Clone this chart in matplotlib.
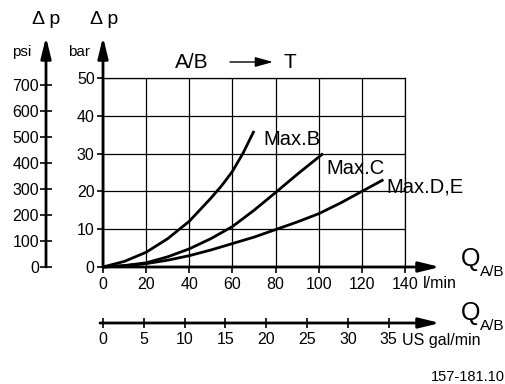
import matplotlib
matplotlib.use("Agg")
import matplotlib.pyplot as plt
from matplotlib.patches import FancyArrowPatch

plt.rcParams['font.family'] = ['Liberation Sans', 'DejaVu Sans']

# flow in l/min, pressure drop in bar
q_b = [0, 10, 20, 30, 40, 50, 55, 60, 65, 70]
dp_b = [0, 1.5, 3.9, 7.5, 12.1, 18.2, 21.5, 25.3, 30.2, 36.0]
q_c = [0, 10, 20, 30, 40, 50, 60, 70, 80, 90, 102]
dp_c = [0, 0.4, 1.1, 2.7, 4.8, 7.5, 10.7, 15.0, 19.7, 24.5, 30.0]
q_de = [0, 10, 20, 30, 40, 50, 60, 70, 80, 90, 100, 110, 120, 130]
dp_de = [0, 0.3, 0.9, 1.8, 3.0, 4.5, 6.2, 7.9, 9.9, 11.9, 14.1, 16.9, 20.0, 23.1]
labels = ["Max.B", "Max.C", "Max.D,E"]

lmin_ticks = list(range(0, 141, 20))
bar_ticks = list(range(0, 51, 10))
psi_ticks = list(range(0, 701, 100))
gal_ticks = list(range(0, 36, 5))

W, H = 506, 384
fig = plt.figure(figsize=(W / 100, H / 100), dpi=100)
fig.patch.set_facecolor('white')

def fx(px):
    return px / W

def fy(py):
    return 1 - py / H

x0, x1, y0, y1 = 103, 405, 267, 78
ax = fig.add_axes([fx(x0), fy(y0), fx(x1) - fx(x0), fy(y1) - fy(y0)])
ax.set_xlim(0, 140)
ax.set_ylim(0, 50)
ax.set_xticks(lmin_ticks)
ax.set_yticks(bar_ticks)
ax.grid(True, color='k', lw=0.9)
for s in ['left', 'bottom']:
    ax.spines[s].set_visible(False)
for s in ['top', 'right']:
    ax.spines[s].set_linewidth(0.9)
ax.tick_params(axis='both', direction='out', length=4, width=1.2, labelsize=11.5, pad=2)
ax.tick_params(axis='x', pad=3)

for q, dp in [(q_b, dp_b), (q_c, dp_c), (q_de, dp_de)]:
    ax.plot(q, dp, color='k', lw=2, clip_on=False, solid_capstyle='butt', solid_joinstyle='round')

# axis arrows (main)
arr = dict(arrowstyle='-|>,head_length=0.9,head_width=0.22', lw=2, color='k',
           mutation_scale=14, shrinkA=0, shrinkB=0)
tip_y = (y0 - 37) / (y0 - y1)
tip_x = (440 - x0) / (x1 - x0)
ax.annotate('', xy=(0, tip_y), xytext=(0, 0), xycoords='axes fraction', arrowprops=arr)
ax.annotate('', xy=(tip_x, 0), xytext=(0, 0), xycoords='axes fraction', arrowprops=arr)

# psi axis
psi_loc = (46 - x0) / (x1 - x0)
sec = ax.secondary_yaxis(psi_loc, functions=(lambda b: b * 14.5, lambda p: p / 14.5))
sec.set_yticks(psi_ticks)
sec.spines['left'].set_visible(False)
sec.tick_params(direction='inout', length=8, width=1.2, labelsize=11.5, pad=1)
ax.annotate('', xy=(psi_loc, tip_y), xytext=(psi_loc, 0), xycoords='axes fraction', arrowprops=arr)

# US gal/min axis
gal_loc = -(323 - y0) / (y0 - y1)
secx = ax.secondary_xaxis(gal_loc, functions=(lambda l: l / 3.785, lambda g: g * 3.785))
secx.set_xticks(gal_ticks)
secx.spines['bottom'].set_visible(False)
secx.tick_params(direction='inout', length=7, width=1.2, labelsize=11.5, pad=3)
ax.annotate('', xy=(tip_x, gal_loc), xytext=(-0.01, gal_loc), xycoords='axes fraction', arrowprops=arr)

# texts
fig.text(fx(46), fy(20), "Δ p", ha='center', va='center', fontsize=14)
fig.text(fx(104), fy(20), "Δ p", ha='center', va='center', fontsize=14)
fig.text(fx(31), fy(52), "psi", ha='right', va='center', fontsize=11)
fig.text(fx(90), fy(52), "bar", ha='right', va='center', fontsize=11)
fig.text(fx(192), fy(62), "A/B", ha='center', va='center', fontsize=15)
fig.text(fx(290), fy(62), "T", ha='center', va='center', fontsize=15)
fig.add_artist(FancyArrowPatch(
    (fx(230), fy(62)), (fx(273), fy(62)), transform=fig.transFigure,
    arrowstyle='-|>,head_length=0.9,head_width=0.25', lw=1, color='k',
    mutation_scale=12, shrinkA=0, shrinkB=0))

for lab, (px, py) in zip(labels, [(263, 140), (326, 168), (386, 187)]):
    fig.text(fx(px), fy(py), lab, ha='left', va='center', fontsize=14.5)

fig.text(fx(423), fy(283), "l/min", ha='left', va='center', fontsize=11.5)
fig.text(fx(402), fy(340), "US gal/min", ha='left', va='center', fontsize=11.5)
for qy in [259, 313]:
    fig.text(fx(461), fy(qy), "Q", ha='left', va='center', fontsize=18)
    fig.text(fx(480), fy(qy + 13), "A/B", ha='left', va='center', fontsize=11)
fig.text(fx(505), fy(377), "157-181.10", ha='right', va='center', fontsize=10.5)

fig.savefig("out.png", dpi=100)
